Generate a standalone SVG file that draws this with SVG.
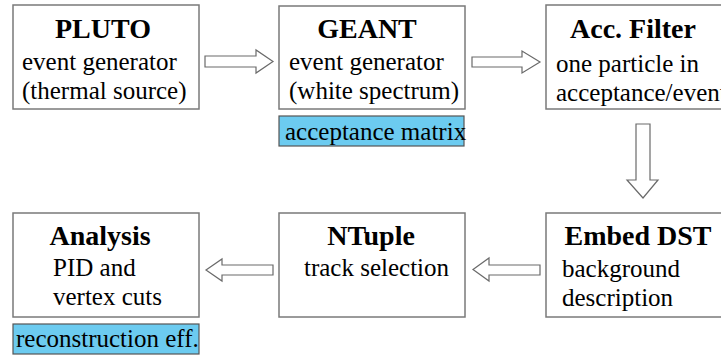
<svg xmlns="http://www.w3.org/2000/svg" width="721" height="356" viewBox="0 0 721 356" font-family="Liberation Serif, Times New Roman, serif">
<style>
.box{fill:#fff;stroke:#7a7a7a;stroke-width:1.5}
.hl{fill:#6ccbf0;stroke:#555;stroke-width:1.2}
.arr{fill:#fff;stroke:#6a6a6a;stroke-width:1.2;stroke-linejoin:miter}
.t{font-weight:bold;font-size:28px;text-anchor:middle}
.b{font-size:25px}
</style>
<rect width="721" height="356" fill="#fff"/>
<g id="pluto">
<rect class="box" x="13" y="5" width="186" height="104"/>
<text class="t" x="103" y="38" font-family="Liberation Serif">PLUTO</text>
<text class="b" x="22" y="70" font-family="Liberation Serif">event generator</text>
<text class="b" x="22" y="99" font-family="Liberation Serif">(thermal source)</text>
</g>
<g id="geant">
<rect class="box" x="279" y="6" width="186" height="103"/>
<text class="t" x="367" y="38" font-family="Liberation Serif">GEANT</text>
<text class="b" x="289" y="70" font-family="Liberation Serif">event generator</text>
<text class="b" x="289" y="99" font-family="Liberation Serif">(white spectrum)</text>
</g>
<g id="acceptance-matrix">
<rect class="hl" x="279" y="116" width="185" height="30"/>
<text class="b" x="285" y="140" font-family="Liberation Serif">acceptance matrix</text>
</g>
<g id="accfilter">
<rect class="box" x="546" y="5" width="190" height="104"/>
<text class="t" x="633" y="38" font-family="Liberation Serif">Acc. Filter</text>
<text class="b" x="556" y="72" font-family="Liberation Serif">one particle in</text>
<text class="b" x="556" y="101" font-family="Liberation Serif">acceptance/event</text>
</g>
<g id="analysis">
<rect class="box" x="13" y="213" width="186" height="104"/>
<text class="t" x="100" y="245" font-family="Liberation Serif">Analysis</text>
<text class="b" x="53" y="276" font-family="Liberation Serif">PID and</text>
<text class="b" x="53" y="305" font-family="Liberation Serif">vertex cuts</text>
</g>
<g id="reconstruction-eff">
<rect class="hl" x="13" y="324" width="186" height="30"/>
<text class="b" x="16" y="347" font-family="Liberation Serif">reconstruction eff.</text>
</g>
<g id="ntuple">
<rect class="box" x="279" y="213" width="186" height="104"/>
<text class="t" x="371" y="245" font-family="Liberation Serif">NTuple</text>
<text class="b" x="304" y="276" font-family="Liberation Serif">track selection</text>
</g>
<g id="embeddst">
<rect class="box" x="546" y="213" width="190" height="104"/>
<text class="t" x="638" y="245" font-family="Liberation Serif">Embed DST</text>
<text class="b" x="562" y="277" font-family="Liberation Serif">background</text>
<text class="b" x="562" y="306" font-family="Liberation Serif">description</text>
</g>
<g id="connectors">
<polygon class="arr" points="205,56 256,56 256,50 273,61.5 256,73 256,67 205,67"/>
<polygon class="arr" points="472,57 522,57 522,51 540,62 522,73 522,67 472,67"/>
<polygon class="arr" points="636,124 650,124 650,180 658,180 643,198 627,180 636,180"/>
<polygon class="arr" points="540,265 489,265 489,258 473,269.5 489,281 489,275 540,275"/>
<polygon class="arr" points="273,265 222,265 222,259 206,270 222,281 222,275 273,275"/>
</g>
</svg>
